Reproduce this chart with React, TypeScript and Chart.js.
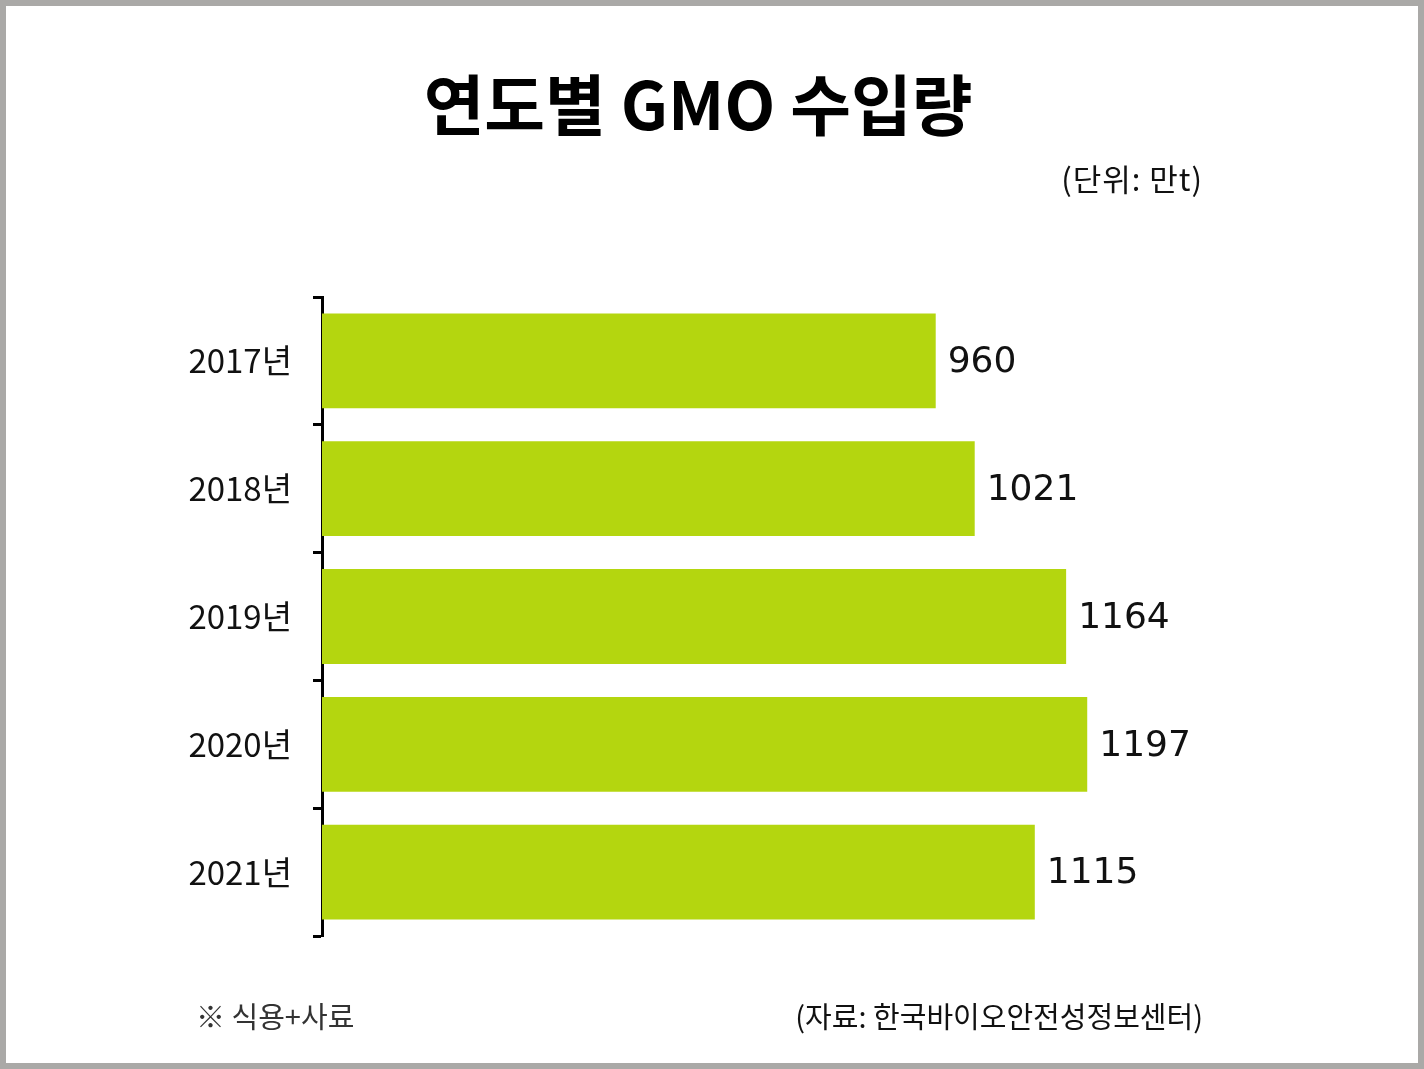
import React, { useEffect, useRef } from "react";
import { Chart, registerables } from "chart.js";

Chart.register(...registerables);

const categories = ["2017년", "2018년", "2019년", "2020년", "2021년"];
const values = [960, 1021, 1164, 1197, 1115];
const xMax = 1400;

const TITLE = "연도별 GMO 수입량";
const UNIT = "(단위: 만t)";
const NOTE = "※ 식용+사료";
const SOURCE = "(자료: 한국바이오안전성정보센터)";

const FONT = "'Noto Sans CJK KR', 'Noto Sans', sans-serif";
const FONT2 = "'DejaVu Sans', 'Noto Sans CJK KR', sans-serif";
const BAR_COLOR = "#b4d60f";

const valueLabelPlugin = {
  id: "valueLabels",
  afterDatasetsDraw(chart: any) {
    const ctx = chart.ctx;
    const meta = chart.getDatasetMeta(0);
    ctx.save();
    ctx.font = `36px ${FONT2}`;
    ctx.fillStyle = "#111";
    ctx.textAlign = "left";
    ctx.textBaseline = "middle";
    meta.data.forEach((el: any, i: number) => {
      ctx.fillText(String(values[i]), el.x + 12, el.y + 2);
    });
    ctx.restore();
  },
};

export default function App() {
  const ref = useRef<HTMLCanvasElement>(null);
  useEffect(() => {
    if (!ref.current) return;
    const chart = new Chart(ref.current, {
      type: "bar",
      data: {
        labels: categories,
        datasets: [
          {
            data: values,
            backgroundColor: BAR_COLOR,
            borderWidth: 0,
            categoryPercentage: 1,
            barPercentage: 0.742,
          },
        ],
      },
      options: {
        indexAxis: "y",
        animation: false,
        responsive: false,
        maintainAspectRatio: false,
        layout: { padding: { left: 0, top: 297, right: 1424 - 1217, bottom: 1069 - 936 } },
        plugins: {
          legend: { display: false },
          tooltip: { enabled: false },
          title: { display: false },
        },
        scales: {
          x: { display: false, min: 0, max: xMax },
          y: {
            afterFit: (scale: any) => {
              scale.width = 322;
            },
            border: { display: true, color: "#000", width: 3 },
            grid: {
              drawOnChartArea: false,
              drawTicks: true,
              tickLength: 9,
              tickWidth: 3,
              color: "#000",
              offset: true,
            },
            ticks: {
              color: "#111",
              padding: 21,
              font: { family: FONT, size: 33 },
            },
          },
        },
      },
      plugins: [valueLabelPlugin],
    } as any);
    return () => chart.destroy();
  }, []);

  const textBase: React.CSSProperties = {
    position: "absolute",
    fontFamily: FONT,
    color: "#111",
    whiteSpace: "nowrap",
  };

  return (
    <div
      style={{
        position: "absolute",
        left: 0,
        top: 0,
        width: 1424,
        height: 1069,
        background: "#fff",
        overflow: "hidden",
      }}
    >
      <canvas
        ref={ref}
        width={1424}
        height={1069}
        style={{ position: "absolute", left: 0, top: 0, width: 1424, height: 1069 }}
      />
      <div
        style={{
          ...textBase,
          left: 0,
          width: 1396,
          top: 101 - 40,
          height: 80,
          lineHeight: "80px",
          textAlign: "center",
          fontSize: 66,
          fontWeight: 700,
          color: "#000",
        }}
      >
        {TITLE}
      </div>
      <div
        style={{
          ...textBase,
          right: 1424 - 1203,
          top: 178 - 20,
          height: 40,
          lineHeight: "40px",
          fontSize: 31,
          letterSpacing: 1,
        }}
      >
        {UNIT}
      </div>
      <div
        style={{
          ...textBase,
          left: 196,
          top: 1015 - 20,
          height: 40,
          lineHeight: "40px",
          fontSize: 29,
          color: "#333",
        }}
      >
        {NOTE}
      </div>
      <div
        style={{
          ...textBase,
          right: 1424 - 1203,
          top: 1015 - 20,
          height: 40,
          lineHeight: "40px",
          fontSize: 29,
        }}
      >
        {SOURCE}
      </div>
      <div
        style={{
          position: "absolute",
          left: 0,
          top: 0,
          width: 1424,
          height: 1069,
          boxSizing: "border-box",
          border: "6px solid #aaa9a7",
          pointerEvents: "none",
        }}
      />
    </div>
  );
}
